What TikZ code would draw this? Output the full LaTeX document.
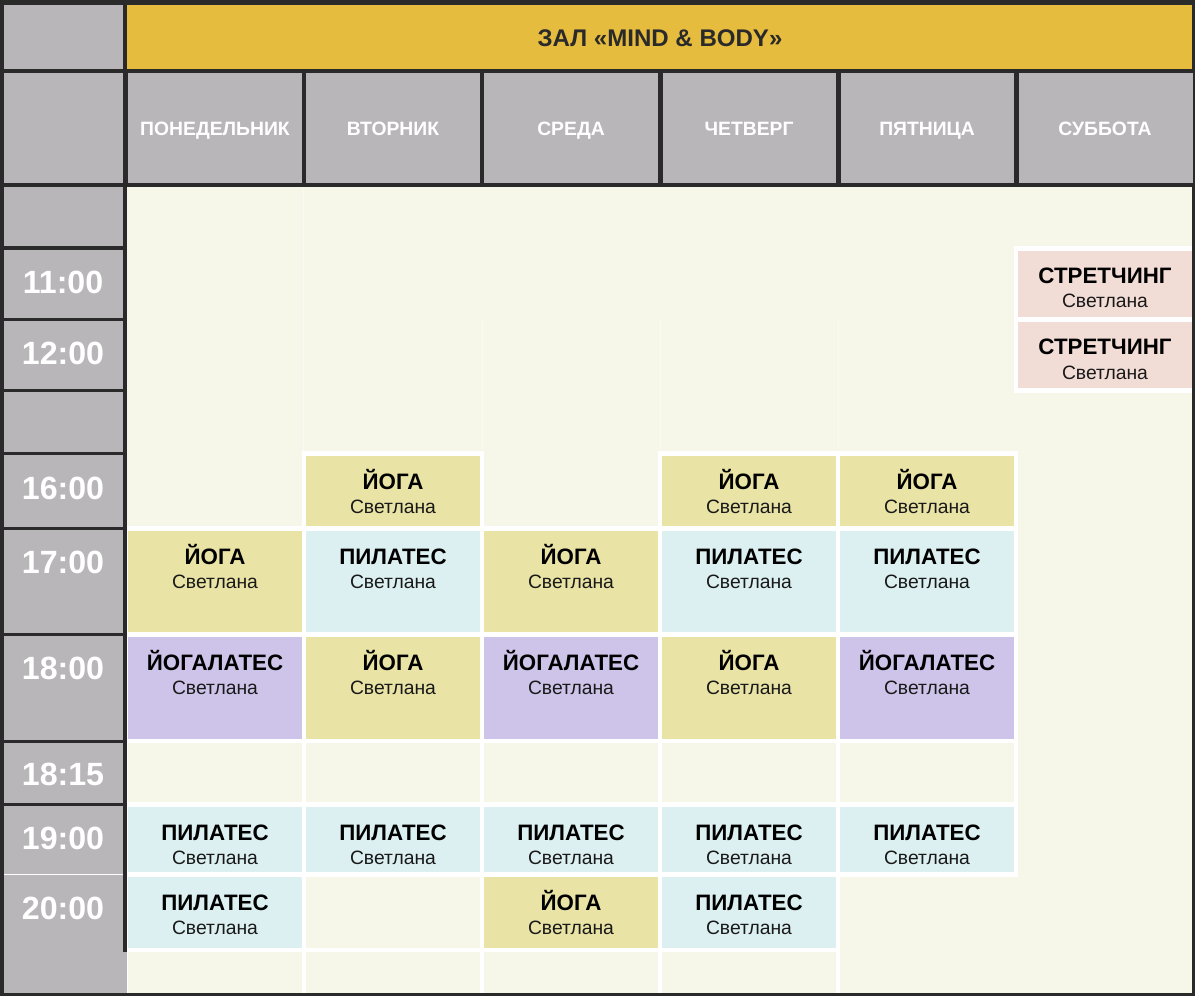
\documentclass[tikz,border=0pt]{standalone}
\usepackage{fontspec}
\setmainfont{Liberation Sans}
\definecolor{frame}{HTML}{2B2A2B}
\definecolor{greycell}{HTML}{B9B6BA}
\definecolor{hall}{HTML}{E6BC3E}
\definecolor{plain}{HTML}{F6F7E9}
\definecolor{yoga}{HTML}{E9E3A5}
\definecolor{pilates}{HTML}{DCF0F1}
\definecolor{yogalates}{HTML}{CEC3E9}
\definecolor{stretch}{HTML}{F2DCD6}
\begin{document}
\begin{tikzpicture}[x=0.02cm,y=-0.02cm,
	cell/.style={draw=white,line width=2.3pt},
	dayname/.style={text=white,font=\fontsize{11}{13}\selectfont\bfseries,anchor=base},
	hour/.style={text=white,font=\fontsize{18.3}{20}\selectfont\bfseries,anchor=base},
	lesson/.style={font=\fontsize{12.7}{14}\selectfont\bfseries,anchor=base},
	coach/.style={text=black!90,font=\fontsize{11}{13}\selectfont,anchor=base}]
	\useasboundingbox (0,0) rectangle (1195,996);
	\fill[frame] (0,0) rectangle (1195,996);

	% header
	\fill[greycell] (4,5) rectangle (123,69);
	\fill[hall] (127,5) rectangle (1192,69);
	\node[anchor=base,text=frame,font=\fontsize{13.7}{16}\selectfont\bfseries] (hall) at (660,47) {ЗАЛ «MIND \& BODY»};
	\fill[greycell] (4,73) rectangle (123,183);
	\foreach \d [count=\i from 0] in {ПОНЕДЕЛЬНИК,ВТОРНИК,СРЕДА,ЧЕТВЕРГ,ПЯТНИЦА,СУББОТА}{
		\fill[greycell] ({128+178.2*\i},73) rectangle ++(173.5,110);
		\node[dayname] (day\i) at ({215+178*\i},136) {\d};
	}

	% body
	\fill[plain] (127,187) rectangle (1192,993);
	\draw[white,line width=0.5pt,opacity=0.45] (303,188) -- (303,451);
	\foreach \x in {482,660,838}
		\draw[white,line width=0.5pt,opacity=0.45] (\x,320) -- (\x,449);

	% empty cells
	\foreach \i/\a/\b in {0/741/804.5,1/741/804.5,2/741/804.5,3/741/804.5,4/741/804.5,
		1/874.5/950,0/950/996,1/950/996,2/950/996,3/950/996}
		\filldraw[cell,fill=plain] ({126+178*\i},\a) rectangle ({304+178*\i},\b);

	% lessons
	\foreach \i/\a/\b/\c/\t [count=\n] in {5/248.5/319.5/stretch/СТРЕТЧИНГ,5/319.5/390.5/stretch/СТРЕТЧИНГ,
		1/453.5/528.5/yoga/ЙОГА,3/453.5/528.5/yoga/ЙОГА,4/453.5/528.5/yoga/ЙОГА,
		0/528.5/634.5/yoga/ЙОГА,1/528.5/634.5/pilates/ПИЛАТЕС,2/528.5/634.5/yoga/ЙОГА,
		3/528.5/634.5/pilates/ПИЛАТЕС,4/528.5/634.5/pilates/ПИЛАТЕС,
		0/634.5/741/yogalates/ЙОГАЛАТЕС,1/634.5/741/yoga/ЙОГА,2/634.5/741/yogalates/ЙОГАЛАТЕС,
		3/634.5/741/yoga/ЙОГА,4/634.5/741/yogalates/ЙОГАЛАТЕС,
		0/804.5/874.5/pilates/ПИЛАТЕС,1/804.5/874.5/pilates/ПИЛАТЕС,2/804.5/874.5/pilates/ПИЛАТЕС,
		3/804.5/874.5/pilates/ПИЛАТЕС,4/804.5/874.5/pilates/ПИЛАТЕС,
		0/874.5/950/pilates/ПИЛАТЕС,2/874.5/950/yoga/ЙОГА,3/874.5/950/pilates/ПИЛАТЕС}{
		\filldraw[cell,fill=\c] ({126+178*\i},\a) rectangle ({304+178*\i},\b);
		\node[lesson] (lesson\n) at ({215+178*\i},{\a+35.5}) {\t};
		\node[coach] (coach\n) at ({215+178*\i},{\a+59.5}) {Светлана};
	}

	% frame over the cells
	\fill[frame] (1192,187) rectangle (1195,996);
	\fill[frame] (0,993) rectangle (1195,996);
	\fill[frame] (123,187) rectangle (127,952);

	% hours
	\fill[greycell] (4,187) rectangle (123,993);
	\fill[greycell] (123,952) rectangle (127,993);
	\foreach \y in {248,319.5,390.5,453.5,528.5,634.5,741.5,804.5}
		\draw[frame,line width=1.8pt] (2,\y) -- (125,\y);
	\draw[white,line width=0.6pt] (4,874.5) -- (123,874.5);
	\foreach \t/\y [count=\n] in {11:00/294,12:00/364,16:00/499,17:00/573,18:00/679,18:15/785,19:00/849,20:00/919}
		\node[hour] (hour\n) at (63,\y) {\t};
\end{tikzpicture}
\end{document}
